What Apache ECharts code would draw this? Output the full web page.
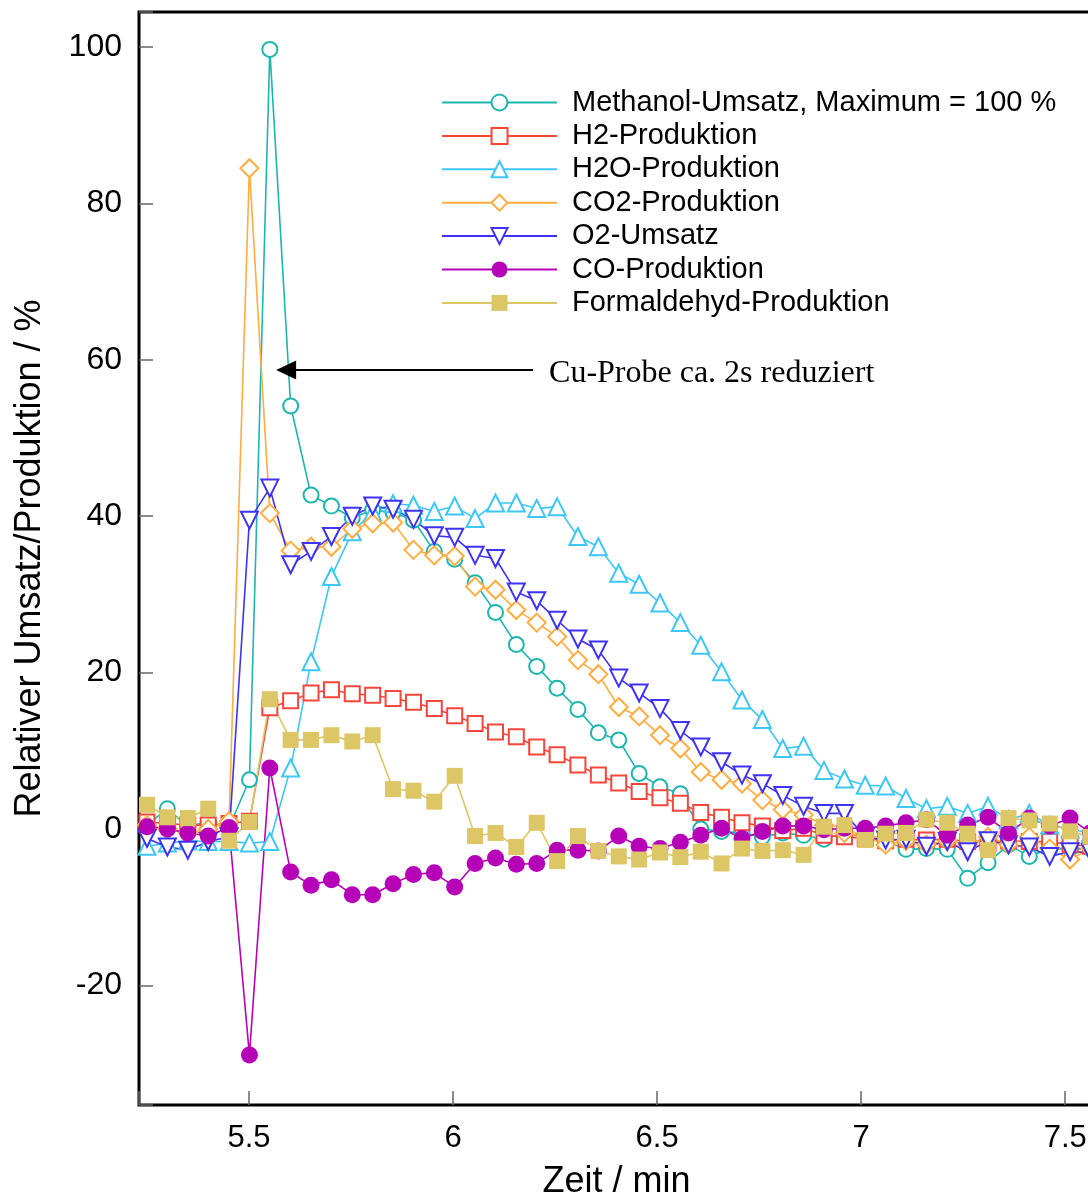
<!DOCTYPE html>
<html>
<head>
<meta charset="utf-8">
<title>Cu-Probe Umsatz</title>
<script src="https://cdn.jsdelivr.net/npm/echarts@6.0.0/dist/echarts.min.js"></script>
<style>
  html, body { margin: 0; padding: 0; background: #fff; }
  #chart { width: 1088px; height: 1196px; }
</style>
</head>
<body>
<div id="chart"></div>
<script>
// Zeit / min
const times = [5.250, 5.300, 5.350, 5.400, 5.451, 5.501, 5.551, 5.602, 5.652, 5.702,
  5.753, 5.803, 5.853, 5.903, 5.954, 6.004, 6.054, 6.104, 6.155, 6.205,
  6.255, 6.306, 6.356, 6.406, 6.456, 6.507, 6.557, 6.607, 6.658, 6.708,
  6.758, 6.808, 6.859, 6.909, 6.959, 7.010, 7.060, 7.110, 7.160, 7.211,
  7.261, 7.311, 7.361, 7.412, 7.462, 7.512, 7.562];

const methanol = [0.5, 2.6, 0.3, 1.0, 0.2, 6.3, 99.7, 54.1, 42.7, 41.3,
  39.8, 40.8, 40.5, 39.5, 35.5, 34.5, 31.5, 27.7, 23.6, 20.8,
  18.0, 15.3, 12.3, 11.4, 7.1, 5.4, 4.5, 0.0, -0.3, -0.5,
  -1.0, -0.5, -0.8, -1.3, -0.5, -1.0, -1.5, -2.6, -2.5, -2.6,
  -6.3, -4.3, -2.0, -3.5, -2.5, -2.5, -2.5];
const h2 = [0.9, 0.7, 0.5, 0.5, 0.7, 1.0, 15.5, 16.4, 17.4, 17.8,
  17.3, 17.1, 16.7, 16.2, 15.4, 14.5, 13.5, 12.4, 11.8, 10.5,
  9.5, 8.2, 6.9, 5.9, 4.8, 4.0, 3.3, 2.1, 1.5, 0.8,
  0.4, -0.2, 0.1, -0.8, -1.0, -1.2, -1.5, -1.3, -1.4, -1.3,
  -1.6, -1.8, -1.5, -1.6, -1.6, -2.0, -2.2];
const h2o = [-2.2, -1.8, -1.5, -1.6, -1.6, -1.8, -1.6, 7.8, 21.4, 32.3,
  38.0, 40.5, 41.6, 41.4, 40.6, 41.3, 39.7, 41.7, 41.7, 41.0,
  41.2, 37.4, 36.1, 32.7, 31.3, 28.9, 26.4, 23.5, 20.1, 16.5,
  14.0, 10.3, 10.6, 7.5, 6.4, 5.6, 5.5, 3.9, 2.6, 2.9,
  2.0, 2.9, 1.2, 2.0, 0.5, 0.0, -0.5];
const co2 = [0.5, 0.0, -0.5, 0.0, 1.0, 84.5, 40.4, 35.6, 36.1, 36.1,
  38.4, 39.1, 39.2, 35.7, 35.0, 34.9, 31.0, 30.6, 28.0, 26.4,
  24.6, 21.6, 19.8, 15.6, 14.4, 12.0, 10.3, 7.3, 6.3, 5.8,
  3.7, 2.5, 1.8, 0.5, -0.5, -1.0, -2.0, -1.5, -2.0, -1.5,
  -2.0, -1.0, -2.0, -1.0, -2.5, -3.9, -2.5];
const o2 = [-1.2, -2.3, -2.7, -1.6, -1.0, 39.5, 43.6, 33.8, 35.5, 37.4,
  40.0, 41.3, 40.9, 39.6, 37.5, 37.3, 35.0, 34.6, 30.3, 29.2,
  26.7, 24.3, 22.9, 19.3, 17.4, 15.4, 12.6, 10.5, 8.6, 6.9,
  5.8, 4.3, 2.9, 2.0, 2.0, -1.0, -1.4, -1.3, -2.2, -1.6,
  -2.9, -1.5, -2.0, -2.3, -3.5, -2.9, -3.0];
const co = [0.3, 0.0, -0.5, -0.9, 0.2, -28.9, 7.8, -5.5, -7.2, -6.5,
  -8.4, -8.4, -7.0, -5.8, -5.6, -7.4, -4.4, -3.7, -4.5, -4.4,
  -2.7, -2.7, -2.8, -0.9, -2.2, -2.5, -1.7, -0.8, 0.1, -1.2,
  -0.3, 0.4, 0.4, -0.1, 0.1, 0.1, 0.4, 0.8, 1.2, -0.8,
  0.5, 1.5, -0.5, 1.4, 0.4, 1.4, -0.5];
const formaldehyd = [3.1, 1.5, 1.4, 2.6, -1.5, 0.9, 16.6, 11.4, 11.4, 12.0,
  11.2, 12.0, 5.1, 4.9, 3.5, 6.8, -0.9, -0.5, -2.3, 0.8,
  -4.1, -0.9, -2.8, -3.5, -3.9, -3.0, -3.6, -2.9, -4.4, -2.5,
  -2.8, -2.7, -3.3, 0.3, 0.5, -1.4, -0.6, -0.5, 1.2, 0.8,
  -0.6, -2.7, 1.4, 1.1, 0.7, -0.3, -1.0];

const seriesNames = ['Methanol-Umsatz, Maximum = 100 %', 'H2-Produktion', 'H2O-Produktion',
  'CO2-Produktion', 'O2-Umsatz', 'CO-Produktion', 'Formaldehyd-Produktion'];

// annotation arrow (data coords)
const arrowFrom = [6.196, 58.7];
const arrowTo = [5.591, 58.7];
const arrowTextAt = [6.196, 58.3];
const arrowText = 'Cu-Probe ca. 2s reduziert';

const font = "'Liberation Sans', Arial, sans-serif";

function pairs(values) {
  return values.map((v, i) => [times[i], v]);
}

function makeSeries(name, values, color, symbol, size, rotate) {
  return {
    name: name,
    type: 'line',
    data: pairs(values),
    symbol: symbol,
    symbolSize: size,
    symbolRotate: rotate || 0,
    showAllSymbol: true,
    lineStyle: { color: color, width: 1.6 },
    itemStyle: { color: color, borderWidth: 2 },
    emphasis: { disabled: true }
  };
}

const chart = echarts.init(document.getElementById('chart'));

const series = [
  makeSeries(seriesNames[0], methanol, '#1db6ae', 'emptyCircle', 15),
  makeSeries(seriesNames[1], h2, '#f5463c', 'emptyRect', 15),
  makeSeries(seriesNames[2], h2o, '#3ec6f6', 'emptyTriangle', 17),
  makeSeries(seriesNames[3], co2, '#ffac40', 'emptyDiamond', 18),
  makeSeries(seriesNames[4], o2, '#3e33f2', 'emptyTriangle', 17, 180),
  makeSeries(seriesNames[5], co, '#b500b8', 'circle', 17),
  makeSeries(seriesNames[6], formaldehyd, '#dcc666', 'rect', 16)
];

// arrow + text
series[0].markLine = {
  silent: true,
  animation: false,
  symbol: ['none', 'triangle'],
  symbolSize: [19, 20],
  lineStyle: { color: '#000', width: 2, type: 'solid' },
  itemStyle: { color: '#000' },
  label: { show: false },
  data: [[{ coord: arrowFrom }, { coord: arrowTo }]]
};
series[0].markPoint = {
  silent: true,
  animation: false,
  symbol: 'circle',
  symbolSize: 0,
  label: {
    show: true,
    position: 'right',
    distance: 16,
    formatter: arrowText,
    color: '#000',
    fontFamily: "'Liberation Serif', 'Times New Roman', serif",
    fontSize: 32
  },
  data: [{ coord: arrowTextAt }]
};

const option = {
  animation: false,
  backgroundColor: '#fff',
  grid: {
    left: 139,
    top: 12,
    width: 967,
    height: 1093,
    outerBoundsMode: 'none',
    containLabel: false,
    show: true,
    borderColor: '#000',
    borderWidth: 3
  },
  legend: {
    orient: 'vertical',
    left: 436,
    top: 83,
    itemWidth: 115,
    itemHeight: 20,
    itemGap: 4.4,
    data: seriesNames,
    textStyle: { fontFamily: font, fontSize: 29, color: '#000', padding: [0, 0, 0, 10] }
  },
  xAxis: {
    type: 'value',
    min: 5.2304,
    max: 7.6,
    splitNumber: 5,
    name: 'Zeit / min',
    nameLocation: 'middle',
    nameGap: 59,
    nameMoveOverlap: false,
    nameTextStyle: { fontFamily: font, fontSize: 36, color: '#000', padding: [0, 12, 0, 0] },
    axisLine: { show: false, onZero: false },
    axisTick: { inside: true, length: 14, lineStyle: { color: '#666', width: 1.5 } },
    axisLabel: {
      margin: 18,
      fontFamily: font,
      fontSize: 31,
      color: '#000',
      formatter: function (v) {
        return Math.abs(v * 2 - Math.round(v * 2)) < 1e-6 ? String(v) : '';
      }
    },
    splitLine: { show: false }
  },
  yAxis: {
    type: 'value',
    min: -35.29,
    max: 104.48,
    splitNumber: 7,
    name: 'Relativer Umsatz/Produktion / %',
    nameLocation: 'middle',
    nameRotate: 90,
    nameGap: 91,
    nameMoveOverlap: false,
    nameTextStyle: { fontFamily: font, fontSize: 36, color: '#000' },
    axisLine: { show: false, onZero: false },
    axisTick: { inside: true, length: 14, lineStyle: { color: '#666', width: 1.5 } },
    axisLabel: {
      margin: 17,
      fontFamily: font,
      fontSize: 32,
      color: '#000',
      formatter: function (v) {
        return Math.abs(v / 20 - Math.round(v / 20)) < 1e-6 ? String(Math.round(v)) : '';
      }
    },
    splitLine: { show: false }
  },
  series: series
};

chart.setOption(option);
window.addEventListener('resize', function () {
  chart.resize();
});
</script>
</body>
</html>
